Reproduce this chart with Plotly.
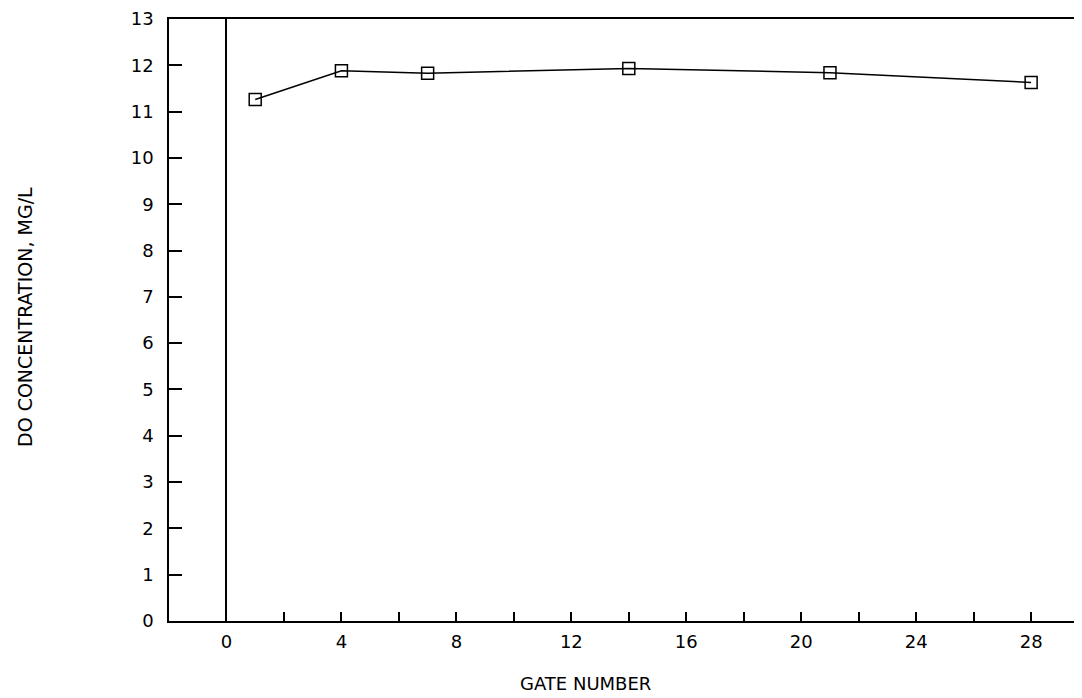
import plotly.graph_objects as go

gate = [1, 4, 7, 14, 21, 28]
do_conc = [11.26, 11.88, 11.83, 11.93, 11.84, 11.63]

x_tick_vals = list(range(0, 30, 2))
x_tick_text = [str(v) if v % 4 == 0 else "" for v in x_tick_vals]
y_tick_vals = list(range(0, 14))

FONT = "DejaVu Sans"

fig = go.Figure()
fig.add_trace(go.Scatter(
    x=gate, y=do_conc, mode="lines+markers",
    line=dict(color="black", width=1.5),
    marker=dict(symbol="square-open", size=12, color="black", line=dict(width=1.5)),
    showlegend=False,
))

# page body has an 8px default margin, so the figure is made 8px smaller
fig.update_layout(
    width=1074, height=690,
    margin=dict(l=161, r=0, t=6, b=77),
    paper_bgcolor="white", plot_bgcolor="white",
    font=dict(family=FONT, color="black", size=18),
)
fig.update_xaxes(
    range=[-2, 29.77], tickmode="array", tickvals=x_tick_vals, ticktext=x_tick_text,
    ticks="inside", ticklen=9, tickwidth=1.5, tickcolor="black",
    showline=True, linecolor="black", linewidth=1.5, mirror=True,
    showgrid=False, zeroline=True, zerolinecolor="black", zerolinewidth=1.5,
    ticklabelstandoff=4, tickfont=dict(size=18), ticklabeloverflow="allow",
)
fig.update_yaxes(
    range=[0, 13], tickmode="array", tickvals=y_tick_vals,
    ticks="inside", ticklen=13, tickwidth=1.5, tickcolor="black",
    showline=True, linecolor="black", linewidth=1.5, mirror=False,
    showgrid=False, zeroline=False,
    ticklabelstandoff=10, tickfont=dict(size=18), ticklabeloverflow="allow",
)
fig.add_annotation(
    text="GATE NUMBER", x=12.5, xref="x", y=0, yref="paper", yshift=-62,
    showarrow=False, font=dict(size=18), xanchor="center", yanchor="middle",
)
fig.add_annotation(
    text="DO CONCENTRATION, MG/L", x=0, xref="paper", xshift=-144, y=0.505, yref="paper",
    showarrow=False, font=dict(size=19), textangle=-90, xanchor="center", yanchor="middle",
)
fig.write_html("out.html")
